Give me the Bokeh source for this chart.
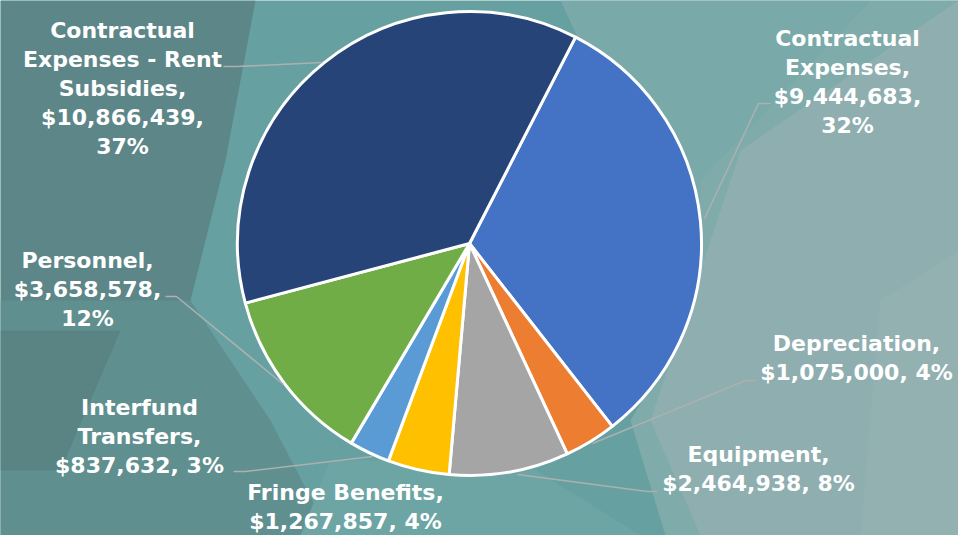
import math
from bokeh.plotting import figure
from bokeh.models import Range1d, ColumnDataSource
from bokeh.core.properties import value
from bokeh.embed import file_html
from bokeh.resources import INLINE

# ---- data ----
categories = ["Contractual Expenses", "Depreciation", "Equipment", "Fringe Benefits",
              "Interfund Transfers", "Personnel", "Contractual Expenses - Rent Subsidies"]
amounts = [9444683, 1075000, 2464938, 1267857, 837632, 3658578, 10866439]
colors = ["#4472C4", "#ED7D31", "#A5A5A5", "#FFC000", "#5B9BD5", "#70AD47", "#264478"]
# words per label line
wraps = [[1, 1, 1, 1], [1, 2], [1, 2], [2, 2], [1, 1, 2], [1, 1, 1], [1, 3, 1, 1, 1]]

# ---- layout (reference pixel coordinates) ----
W, H = 958, 535
first_angle_deg = 27.2
cx_px, cy_px, radius = 469, 243, 232
label_anchor = [(847, 38), (856, 343), (758, 454), (345, 492), (139, 407), (87, 260), (122, 30)]
line_gap = 29
leaders = [
    [(770, 103), (758, 103), (704, 218)],
    [(755, 380), (745, 380), (592, 443)],
    [(657, 491), (647, 491), (517, 474)],
    None,
    [(233, 471), (245, 471), (372, 456)],
    [(165, 296), (176, 296), (283, 384)],
    [(223, 66), (236, 66), (322, 62)],
]


def Y(y):
    return H - y


p = figure(width=W, height=H, output_backend="svg", toolbar_location=None,
           x_range=Range1d(0, W), y_range=Range1d(0, H), min_border=0)
p.axis.visible = False
p.xgrid.visible = False
p.ygrid.visible = False
p.outline_line_color = None
p.background_fill_color = "#67a0a0"
p.border_fill_color = "#67a0a0"

# ---- decorative background facets ----
bg_polys = [
    ("#5c8687", [(0, 0), (255, 0), (225, 160), (190, 300), (120, 420), (60, 535), (0, 535)]),
    ("#5f8f8f", [(0, 300), (190, 300), (270, 420), (330, 535), (0, 535)]),
    ("#5a8384", [(0, 330), (120, 330), (60, 470), (0, 470)]),
    ("#79a9a9", [(560, 0), (870, 0), (703, 180), (700, 300)]),
    ("#80abab", [(700, 180), (870, 0), (958, 0), (958, 535), (665, 535), (630, 420), (700, 300)]),
    ("#8eaeaf", [(740, 150), (958, 0), (958, 535), (700, 535), (650, 420)]),
    ("#94b1b2", [(880, 300), (958, 250), (958, 535), (860, 535)]),
    ("#6ca5a4", [(330, 460), (520, 460), (640, 535), (300, 535)]),
]
p.patches(xs=[[pt[0] for pt in poly] for _, poly in bg_polys],
          ys=[[Y(pt[1]) for pt in poly] for _, poly in bg_polys],
          fill_color=[c for c, _ in bg_polys], line_color=None)

# ---- pie ----
total = sum(amounts)
starts, ends = [], []
theta = first_angle_deg
for a in amounts:
    span = a / total * 360
    starts.append(math.radians(90 - theta))
    ends.append(math.radians(90 - theta - span))
    theta += span

src = ColumnDataSource(dict(x=[cx_px] * len(amounts), y=[Y(cy_px)] * len(amounts),
                            start=starts, end=ends, color=colors))
p.wedge(x="x", y="y", radius=radius, start_angle="start", end_angle="end",
        direction="clock", fill_color="color", line_color="white", line_width=3, source=src)

# ---- leader lines ----
lx, ly = [], []
for ld in leaders:
    if ld:
        lx.append([pt[0] for pt in ld])
        ly.append([Y(pt[1]) for pt in ld])
p.multi_line(xs=lx, ys=ly, line_color="#abb0b0", line_width=1.6)

# ---- labels ----
tx, ty, tt = [], [], []
for name, amt, wrap, (ax, ay) in zip(categories, amounts, wraps, label_anchor):
    pct = round(amt / total * 100)
    words = f"{name}, ${amt:,}, {pct}%".split(" ")
    i = 0
    for k, n in enumerate(wrap):
        tt.append(" ".join(words[i:i + n]))
        i += n
        tx.append(ax)
        ty.append(Y(ay + k * line_gap))
p.text(x=tx, y=ty, text=tt, text_color="white", text_font=value("DejaVu Sans"),
       text_font_style="bold", text_font_size="22px", text_align="center",
       text_baseline="middle")

open("out.html", "w").write(file_html(p, INLINE))
